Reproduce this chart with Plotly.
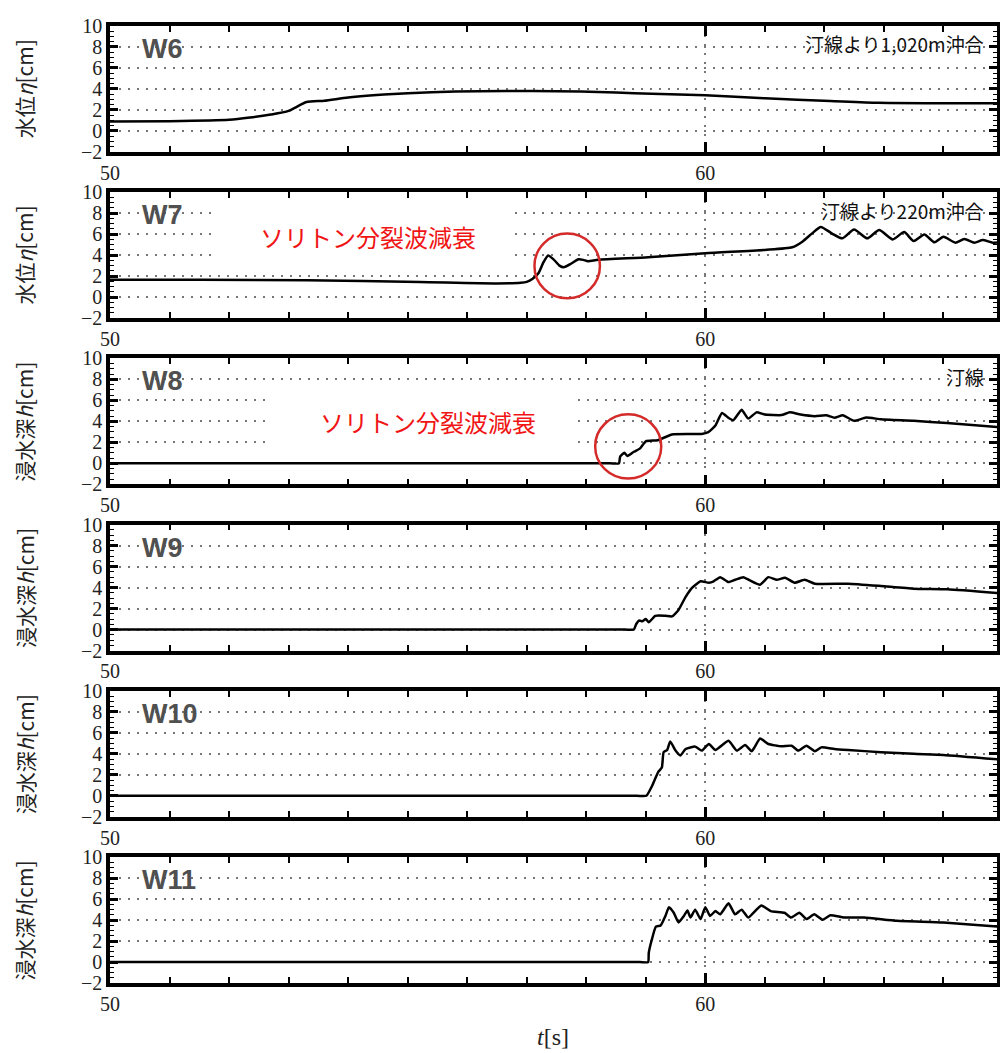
import plotly.graph_objects as go

# ---------------- data ----------------
panel_names = ["W6", "W7", "W8", "W9", "W10", "W11"]
y_titles = ["水位<i>η</i>[cm]", "水位<i>η</i>[cm]", "浸水深<i>h</i>[cm]",
            "浸水深<i>h</i>[cm]", "浸水深<i>h</i>[cm]", "浸水深<i>h</i>[cm]"]
notes = {0: "汀線より1,020m沖合", 1: "汀線より220m沖合", 2: "汀線"}
red_label = "ソリトン分裂波減衰"
x_label = "<i>t</i>[s]"

t6 = [50, 51, 52, 52.35, 52.7, 53.0, 53.3, 53.6, 54.0, 54.6, 55.4, 56.2, 57.1, 57.9, 58.5, 59.1,
      60, 61, 62.1, 62.9, 63.8, 65]
v6 = [0.88, 0.92, 1.05, 1.26, 1.55, 1.9, 2.75, 2.87, 3.18, 3.46, 3.69, 3.78, 3.81, 3.75, 3.66, 3.53,
      3.4, 3.1, 2.85, 2.67, 2.64, 2.64]

t7 = [50, 51.5, 53.3, 55.2, 56.5, 56.9, 57.0, 57.1, 57.2, 57.28, 57.36, 57.45, 57.55, 57.62, 57.75,
      57.87, 57.95, 58.03, 58.2, 59.04, 60, 61, 61.46, 61.63, 61.8, 61.94, 62.13, 62.3, 62.5, 62.72,
      62.92, 63.15, 63.34, 63.5, 63.68, 63.85, 64.0, 64.2, 64.35, 64.52, 64.66, 64.83, 65]
v7 = [1.66, 1.65, 1.6, 1.44, 1.3, 1.36, 1.45, 1.75, 2.3, 3.3, 3.97, 3.6, 3.0, 2.84, 3.2,
      3.6, 3.55, 3.42, 3.56, 3.8, 4.19, 4.5, 4.75, 5.28, 6.1, 6.69, 6.06, 5.6, 6.44, 5.6,
      6.4, 5.5, 6.2, 5.34, 5.97, 5.22, 5.75, 5.19, 5.53, 5.19, 5.44, 5.19, 5.28]

t8 = [50, 58.4, 58.55, 58.57, 58.64, 58.69, 58.8, 58.9, 59.0, 59.2, 59.44, 59.94, 60.05, 60.17, 60.28,
      60.39, 60.47, 60.61, 60.72, 60.86, 61.0, 61.28, 61.42, 61.6, 61.84, 62.03, 62.17, 62.31, 62.5,
      62.7, 62.95, 63.5, 64.06, 65]
v8 = [0, 0, 0, 0.65, 1.0, 0.7, 1.1, 1.4, 2.1, 2.2, 2.75, 2.8, 2.97, 3.6, 4.8,
      4.33, 4.1, 5.1, 4.27, 4.86, 4.65, 4.6, 4.86, 4.65, 4.5, 4.58, 4.35, 4.58, 4.05,
      4.36, 4.2, 4.05, 3.84, 3.43]

t9 = [50, 58.65, 58.8, 58.84, 58.89, 58.94, 59.0, 59.05, 59.16, 59.33, 59.44, 59.55, 59.67, 59.78, 59.92,
      60.06, 60.14, 60.25, 60.39, 60.5, 60.64, 60.75, 60.92, 61.06, 61.2, 61.34, 61.5, 61.67, 61.84,
      62.4, 62.95, 63.5, 64.07, 65]
v9 = [0, 0, 0, 0.53, 0.87, 0.78, 1.0, 0.69, 1.31, 1.31, 1.25, 1.87, 3.12, 4.0, 4.6,
      4.47, 4.6, 5.0, 4.53, 4.75, 5.0, 4.69, 4.28, 5.0, 4.75, 4.94, 4.47, 4.75, 4.37,
      4.37, 4.15, 3.9, 3.84, 3.44]

t10 = [50, 58.85, 59.01, 59.1, 59.21, 59.27, 59.3, 59.36, 59.41, 59.5, 59.58, 59.67, 59.83, 59.94, 60.06,
       60.17, 60.39, 60.53, 60.67, 60.78, 60.92, 61.06, 61.28, 61.45, 61.56, 61.7, 61.84, 61.95,
       62.17, 62.4, 62.95, 63.5, 64.0, 65]
v10 = [0, 0, 0, 0.87, 2.28, 2.69, 4.16, 4.37, 5.19, 4.31, 3.84, 4.47, 4.69, 4.31, 4.94,
       4.37, 5.25, 4.31, 4.84, 4.25, 5.47, 4.94, 4.72, 4.78, 4.31, 4.78, 4.25, 4.62,
       4.47, 4.37, 4.16, 4.0, 3.9, 3.44]

t11 = [50, 58.9, 59.04, 59.05, 59.1, 59.17, 59.25, 59.33, 59.39, 59.47, 59.55, 59.64, 59.7, 59.75, 59.83,
       59.92, 60.0, 60.08, 60.17, 60.25, 60.39, 60.5, 60.61, 60.72, 60.94, 61.1, 61.33, 61.44, 61.58,
       61.7, 61.83, 61.97, 62.1, 62.33, 62.67, 63.22, 64.0, 64.9, 65]
v11 = [0, 0, 0, 0.86, 2.1, 3.38, 3.48, 4.4, 5.23, 4.7, 3.78, 4.4, 4.92, 4.25, 5.0,
       4.1, 5.23, 4.4, 4.86, 4.55, 5.6, 4.55, 5.0, 4.25, 5.4, 4.86, 4.7, 4.25, 4.7,
       4.1, 4.55, 4.03, 4.46, 4.25, 4.25, 3.94, 3.78, 3.38, 3.36]

series_t = [t6, t7, t8, t9, t10, t11]
series_v = [v6, v7, v8, v9, v10, v11]

x_range = [50, 64.9]
y_range = [-2, 10]

# ---------------- layout geometry ----------------
# page body has an 8px margin, so the figure is drawn 8px smaller and shifted
OFF = 8
W, H = 1008 - OFF, 1053 - OFF
ML, MR, MT = 110 - OFF, 7, 21 - OFF
panel_step = 167.2
panel_h = 126.5
MB = H - (MT + panel_step * 5 + panel_h)
PH = H - MT - MB
PW = W - ML - MR

fig = go.Figure()
SERIF = "Liberation Serif, Times New Roman, serif"
CJK = "Noto Sans CJK JP, sans-serif"

for i in range(6):
    n = i + 1
    xa = "x" if n == 1 else f"x{n}"
    ya = "y" if n == 1 else f"y{n}"
    top = MT + panel_step * i
    bot = top + panel_h
    d1 = min(1.0, max(0.0, 1 - (top - MT) / PH))
    d0 = min(1.0, max(0.0, 1 - (bot - MT) / PH))
    fig.add_trace(go.Scatter(x=series_t[i], y=series_v[i], mode="lines",
                             line=dict(color="black", width=2.5, shape="spline",
                                       smoothing=0.6 if i < 2 else 0.45),
                             xaxis=xa, yaxis=ya, showlegend=False, hoverinfo="skip",
                             cliponaxis=True))
    xkey = "xaxis" if n == 1 else f"xaxis{n}"
    ykey = "yaxis" if n == 1 else f"yaxis{n}"
    fig.layout[xkey] = dict(
        domain=[0, 1], anchor=ya, range=x_range, tick0=50, dtick=10,
        ticks="inside", ticklen=10, tickwidth=3, tickcolor="black",
        showline=True, linewidth=3.5, linecolor="black", mirror="allticks",
        showgrid=True, gridcolor="#777", gridwidth=1.5, griddash="2px,7px",
        zeroline=False,
        tickfont=dict(family=SERIF, size=20, color="#222"),
        minor=dict(ticks="inside", dtick=1, ticklen=6, tickwidth=1.5, tickcolor="black",
                   showgrid=False),
    )
    fig.layout[ykey] = dict(
        domain=[d0, d1], anchor=xa, range=y_range, tick0=0, dtick=2,
        ticks="inside", ticklen=8, tickwidth=3, tickcolor="black",
        showline=True, linewidth=3.5, linecolor="black", mirror="allticks",
        showgrid=True, gridcolor="#777", gridwidth=1.5, griddash="2px,7px",
        zeroline=False,
        tickfont=dict(family=SERIF, size=20, color="#222"),
        minor=dict(ticks="inside", dtick=0.5, ticklen=4, tickwidth=1.2, tickcolor="black",
                   showgrid=False),
    )
    # panel label
    fig.add_annotation(text=f"<b>{panel_names[i]}</b>", xref=f"{xa} domain", yref=f"{ya} domain",
                       x=30 / PW, y=1 - 23 / panel_h, xanchor="left", yanchor="middle",
                       showarrow=False,
                       font=dict(family="Liberation Sans, Arial, sans-serif", size=27, color="#505050"))
    # y title
    fig.add_annotation(text=y_titles[i], xref="paper", yref=f"{ya} domain",
                       x=(24 - 110) / PW, y=0.5, textangle=-90,
                       xanchor="center", yanchor="middle", showarrow=False,
                       font=dict(family=CJK, size=21, color="#222"))
    if i in notes:
        fig.add_annotation(text=notes[i], xref=f"{xa} domain", yref=f"{ya} domain",
                           x=1 - 11 / PW, y=1 - 18 / panel_h, xanchor="right", yanchor="middle",
                           showarrow=False, font=dict(family=CJK, size=19, color="#111"))

# white boxes hiding gridlines behind the red captions
fig.add_shape(type="rect", xref="x2", yref="y2", x0=51.75, x1=56.72, y0=2.9, y1=9.0,
              fillcolor="white", line=dict(width=0), layer="above")
fig.add_shape(type="rect", xref="x3", yref="y3", x0=52.71, x1=57.84, y0=1.0, y1=7.0,
              fillcolor="white", line=dict(width=0), layer="above")

# red captions and circles
fig.add_annotation(text=red_label, xref="x2", yref="y2", x=54.33, y=5.75, showarrow=False,
                   xanchor="center", yanchor="middle", font=dict(family=CJK, size=24, color="#f01414"))
fig.add_annotation(text=red_label, xref="x3", yref="y3", x=55.35, y=4.0, showarrow=False,
                   xanchor="center", yanchor="middle", font=dict(family=CJK, size=24, color="#f01414"))
fig.add_shape(type="circle", xref="x2", yref="y2", x0=57.13, x1=58.23, y0=-0.12, y1=6.06,
              line=dict(color="#d42a2a", width=2.5), layer="above")
fig.add_shape(type="circle", xref="x3", yref="y3", x0=58.15, x1=59.26, y0=-1.46, y1=4.67,
              line=dict(color="#d42a2a", width=2.5), layer="above")

# x-axis title
fig.add_annotation(text=x_label, xref="paper", yref="paper", x=(555 - 110) / PW,
                   y=1 - (1038 - OFF - MT) / PH, showarrow=False, xanchor="center", yanchor="middle",
                   font=dict(family=SERIF, size=24, color="#222"))

fig.update_layout(width=W, height=H, margin=dict(l=ML, r=MR, t=MT, b=MB, pad=0),
                  plot_bgcolor="white", paper_bgcolor="white", showlegend=False)

fig.write_html("out.html")
